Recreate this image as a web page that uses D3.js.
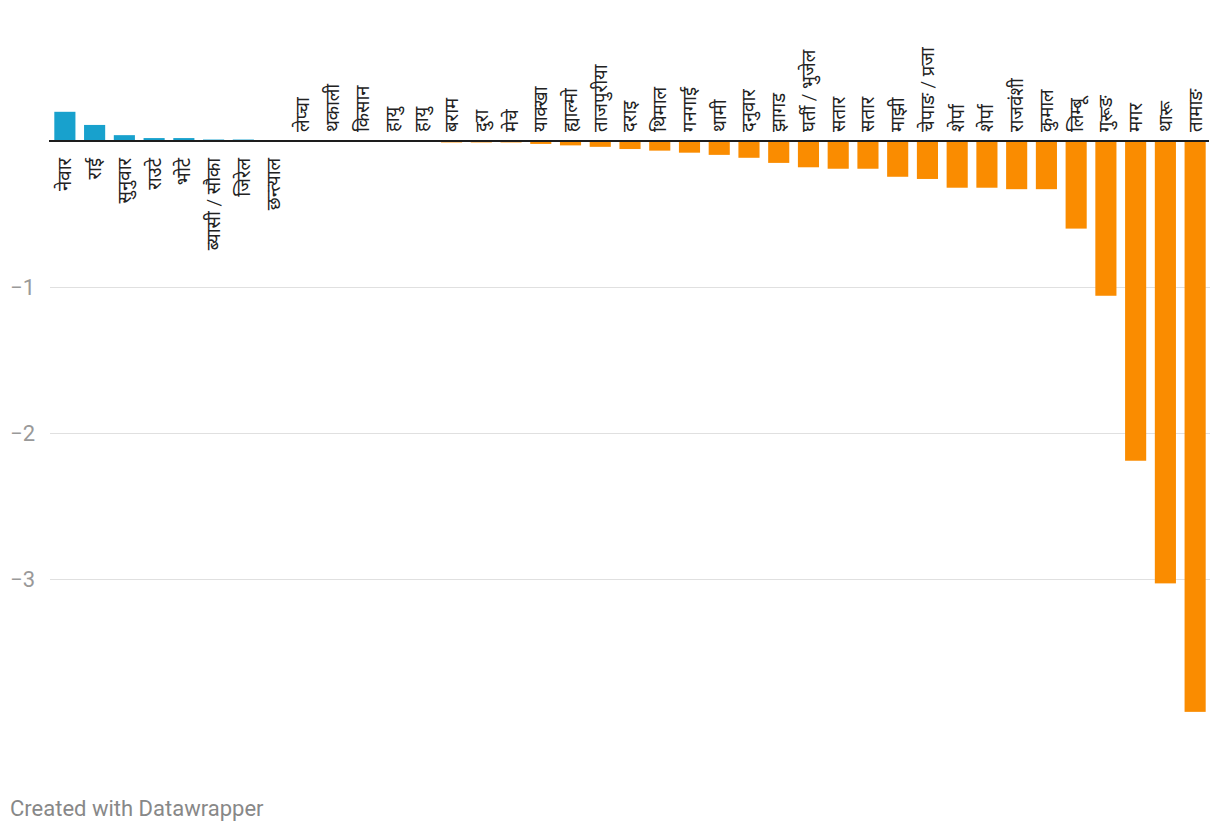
<!DOCTYPE html>
<html>
<head>
<meta charset="utf-8">
<script src="https://cdn.jsdelivr.net/npm/d3@7"></script>
<style>
  html, body { margin: 0; padding: 0; background: #fff; }
  svg { display: block; }
</style>
</head>
<body>
<svg id="chart" width="1220" height="832"></svg>
<script>
const categories = ["नेवार","राई","सुनुवार","राउटे","भोटे","ब्यासी / सौका","जिरेल","छन्त्याल","लेप्चा","थकाली","किसान","हायु","हायु","बराम","दुरा","मेचे","याक्खा","ह्याल्मो","ताजपुरीया","दराइ","थिमाल","गनगाई","थामी","दनुवार","झागड","घर्ती / भुजेल","सतार","सतार","माझी","चेपाङ / प्रजा","शेर्पा","शेर्पा","राजवंशी","कुमाल","लिम्बू","गुरूङ","मगर","थारू","तामाङ"];
const values = [0.20,0.11,0.04,0.02,0.02,0.01,0.01,0.002,0,0,0,0,0,-0.01,-0.01,-0.01,-0.02,-0.03,-0.04,-0.055,-0.066,-0.08,-0.095,-0.115,-0.15,-0.18,-0.19,-0.19,-0.245,-0.26,-0.32,-0.32,-0.33,-0.33,-0.60,-1.06,-2.19,-3.03,-3.91];
const yTicks = [-1, -2, -3];
const footerText = "Created with Datawrapper";

const data = categories.map((c, i) => ({i, c, v: values[i]}));

const svg = d3.select("#chart");
const x = d3.scaleBand().domain(data.map(d => d.i)).range([50, 1210]).paddingInner(0.29).paddingOuter(0.145);
const y = d3.scaleLinear().domain([0, -3]).range([141, 579]);

// grid + tick labels
const yAxis = d3.axisLeft(y).tickValues(yTicks).tickSize(-1160).tickPadding(0).tickFormat(d3.format("d"));
const gy = svg.append("g").attr("transform", "translate(50,0)").call(yAxis);
gy.select(".domain").remove();
gy.selectAll(".tick line").attr("stroke", "#e0e0e0").attr("stroke-width", 1);
gy.selectAll(".tick text")
  .attr("x", -15)
  .attr("dy", "0.33em")
  .attr("fill", "#999")
  .attr("font-family", "Roboto, sans-serif")
  .attr("font-size", 22)
  .attr("text-anchor", "end");

// bars
svg.append("g").selectAll("rect")
  .data(data)
  .join("rect")
  .attr("x", d => x(d.i))
  .attr("width", x.bandwidth())
  .attr("y", d => Math.min(y(d.v), y(0)))
  .attr("height", d => Math.abs(y(d.v) - y(0)))
  .attr("fill", d => d.v > 0 ? "#18a1cd" : "#fa8c00");

// baseline
svg.append("line")
  .attr("x1", 49).attr("x2", 1209)
  .attr("y1", y(0)).attr("y2", y(0))
  .attr("stroke", "#1d1d1d").attr("stroke-width", 2);

// category labels
svg.append("g").selectAll("text")
  .data(data)
  .join("text")
  .attr("transform", d => {
    const cx = x(d.i) + x.bandwidth() / 2;
    const ty = d.v > 0 ? y(0) + 17 : y(0) - 9;
    return `translate(${cx},${ty}) rotate(-90)`;
  })
  .attr("text-anchor", d => d.v > 0 ? "end" : "start")
  .attr("dy", "0.35em")
  .attr("font-family", "Roboto, 'Noto Sans', sans-serif")
  .attr("font-size", 18.5)
  .attr("fill", "#222")
  .text(d => d.c);

// footer
svg.append("text")
  .attr("x", 10).attr("y", 816)
  .attr("font-family", "Roboto, sans-serif")
  .attr("font-size", 22)
  .attr("fill", "#888")
  .text(footerText);
</script>
</body>
</html>
